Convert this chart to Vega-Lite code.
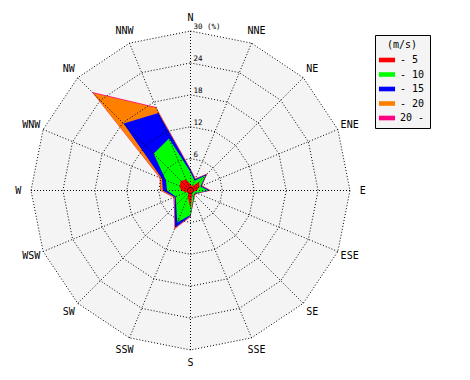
{
  "$schema": "https://vega.github.io/schema/vega-lite/v6.json",
  "width": 319,
  "height": 319,
  "autosize": {"type": "none"},
  "padding": {"left": 31, "top": 31, "right": 120, "bottom": 30},
  "background": "white",
  "config": {"view": {"stroke": null}, "font": "DejaVu Sans Mono"},
  "datasets": {
    "dirs": [
      {"i": 0, "d": "N", "rings": [6, 12, 18, 24, 30]},
      {"i": 1, "d": "NNE", "rings": [6, 12, 18, 24, 30]},
      {"i": 2, "d": "NE", "rings": [6, 12, 18, 24, 30]},
      {"i": 3, "d": "ENE", "rings": [6, 12, 18, 24, 30]},
      {"i": 4, "d": "E", "rings": [6, 12, 18, 24, 30]},
      {"i": 5, "d": "ESE", "rings": [6, 12, 18, 24, 30]},
      {"i": 6, "d": "SE", "rings": [6, 12, 18, 24, 30]},
      {"i": 7, "d": "SSE", "rings": [6, 12, 18, 24, 30]},
      {"i": 8, "d": "S", "rings": [6, 12, 18, 24, 30]},
      {"i": 9, "d": "SSW", "rings": [6, 12, 18, 24, 30]},
      {"i": 10, "d": "SW", "rings": [6, 12, 18, 24, 30]},
      {"i": 11, "d": "WSW", "rings": [6, 12, 18, 24, 30]},
      {"i": 12, "d": "W", "rings": [6, 12, 18, 24, 30]},
      {"i": 13, "d": "WNW", "rings": [6, 12, 18, 24, 30]},
      {"i": 14, "d": "NW", "rings": [6, 12, 18, 24, 30]},
      {"i": 15, "d": "NNW", "rings": [6, 12, 18, 24, 30]}
    ],
    "wind": [
      {"i": 0, "c": "20 -", "v": 4.1}, {"i": 1, "c": "20 -", "v": 2.5}, {"i": 2, "c": "20 -", "v": 4.5}, {"i": 3, "c": "20 -", "v": 2.4},
      {"i": 4, "c": "20 -", "v": 3.9}, {"i": 5, "c": "20 -", "v": 1.5}, {"i": 6, "c": "20 -", "v": 1.2}, {"i": 7, "c": "20 -", "v": 1.8},
      {"i": 8, "c": "20 -", "v": 5.0}, {"i": 9, "c": "20 -", "v": 7.9}, {"i": 10, "c": "20 -", "v": 4.4}, {"i": 11, "c": "20 -", "v": 3.5},
      {"i": 12, "c": "20 -", "v": 5.7}, {"i": 13, "c": "20 -", "v": 6.3}, {"i": 14, "c": "20 -", "v": 26.2}, {"i": 15, "c": "20 -", "v": 17.0},
      {"i": 0, "c": "- 20", "v": 4.0}, {"i": 1, "c": "- 20", "v": 2.4}, {"i": 2, "c": "- 20", "v": 4.4}, {"i": 3, "c": "- 20", "v": 2.3},
      {"i": 4, "c": "- 20", "v": 3.8}, {"i": 5, "c": "- 20", "v": 1.4}, {"i": 6, "c": "- 20", "v": 1.1}, {"i": 7, "c": "- 20", "v": 1.7},
      {"i": 8, "c": "- 20", "v": 4.9}, {"i": 9, "c": "- 20", "v": 7.8}, {"i": 10, "c": "- 20", "v": 4.3}, {"i": 11, "c": "- 20", "v": 3.4},
      {"i": 12, "c": "- 20", "v": 5.6}, {"i": 13, "c": "- 20", "v": 6.2}, {"i": 14, "c": "- 20", "v": 25.95}, {"i": 15, "c": "- 20", "v": 16.85},
      {"i": 0, "c": "- 15", "v": 3.9}, {"i": 1, "c": "- 15", "v": 2.3}, {"i": 2, "c": "- 15", "v": 4.3}, {"i": 3, "c": "- 15", "v": 2.2},
      {"i": 4, "c": "- 15", "v": 3.7}, {"i": 5, "c": "- 15", "v": 1.3}, {"i": 6, "c": "- 15", "v": 1.0}, {"i": 7, "c": "- 15", "v": 1.6},
      {"i": 8, "c": "- 15", "v": 4.8}, {"i": 9, "c": "- 15", "v": 7.6}, {"i": 10, "c": "- 15", "v": 4.2}, {"i": 11, "c": "- 15", "v": 3.2},
      {"i": 12, "c": "- 15", "v": 5.2}, {"i": 13, "c": "- 15", "v": 5.8}, {"i": 14, "c": "- 15", "v": 17.8}, {"i": 15, "c": "- 15", "v": 15.8},
      {"i": 0, "c": "- 10", "v": 3.5}, {"i": 1, "c": "- 10", "v": 2.0}, {"i": 2, "c": "- 10", "v": 4.0}, {"i": 3, "c": "- 10", "v": 2.0},
      {"i": 4, "c": "- 10", "v": 3.3}, {"i": 5, "c": "- 10", "v": 1.2}, {"i": 6, "c": "- 10", "v": 0.9}, {"i": 7, "c": "- 10", "v": 1.5},
      {"i": 8, "c": "- 10", "v": 4.6}, {"i": 9, "c": "- 10", "v": 6.5}, {"i": 10, "c": "- 10", "v": 3.8}, {"i": 11, "c": "- 10", "v": 3.0},
      {"i": 12, "c": "- 10", "v": 4.4}, {"i": 13, "c": "- 10", "v": 5.0}, {"i": 14, "c": "- 10", "v": 9.8}, {"i": 15, "c": "- 10", "v": 10.6},
      {"i": 0, "c": "- 5", "v": 1.2}, {"i": 1, "c": "- 5", "v": 0.8}, {"i": 2, "c": "- 5", "v": 2.3}, {"i": 3, "c": "- 5", "v": 1.8},
      {"i": 4, "c": "- 5", "v": 1.2}, {"i": 5, "c": "- 5", "v": 0.6}, {"i": 6, "c": "- 5", "v": 0.5}, {"i": 7, "c": "- 5", "v": 0.8},
      {"i": 8, "c": "- 5", "v": 3.5}, {"i": 9, "c": "- 5", "v": 1.3}, {"i": 10, "c": "- 5", "v": 0.6}, {"i": 11, "c": "- 5", "v": 0.9},
      {"i": 12, "c": "- 5", "v": 1.8}, {"i": 13, "c": "- 5", "v": 2.2}, {"i": 14, "c": "- 5", "v": 2.6}, {"i": 15, "c": "- 5", "v": 2.2}
    ],
    "ringlabels": [
      {"r": 6, "t": "6", "z": 0}, {"r": 12, "t": "12", "z": 0}, {"r": 18, "t": "18", "z": 0}, {"r": 24, "t": "24", "z": 0}, {"r": 30, "t": "30 (%)", "z": 0}
    ]
  },
  "layer": [
    {
      "data": {"name": "dirs"},
      "transform": [
        {"calculate": "30*sin(datum.i*PI/8)", "as": "x"},
        {"calculate": "30*cos(datum.i*PI/8)", "as": "y"}
      ],
      "mark": {"type": "line", "filled": true, "interpolate": "linear-closed", "color": "#f4f4f4", "strokeWidth": 0},
      "encoding": {
        "x": {"field": "x", "type": "quantitative", "scale": {"domain": [-30, 30], "nice": false, "zero": false}, "axis": null},
        "y": {"field": "y", "type": "quantitative", "scale": {"domain": [-30, 30], "nice": false, "zero": false}, "axis": null},
        "order": {"field": "i", "type": "quantitative"}
      }
    },
    {
      "data": {"name": "wind"},
      "transform": [
        {"calculate": "datum.v*sin(datum.i*PI/8)", "as": "x"},
        {"calculate": "datum.v*cos(datum.i*PI/8)", "as": "y"}
      ],
      "mark": {"type": "line", "filled": true, "interpolate": "linear-closed", "strokeWidth": 0},
      "encoding": {
        "x": {"field": "x", "type": "quantitative", "axis": null},
        "y": {"field": "y", "type": "quantitative", "axis": null},
        "order": {"field": "i", "type": "quantitative"},
        "color": {
          "field": "c", "type": "nominal",
          "scale": {"domain": ["- 5", "- 10", "- 15", "- 20", "20 -"], "range": ["#ff0000", "#00ff00", "#0000ff", "#ff8000", "#ff0080"]},
          "legend": {
            "title": "\u00a0\u00a0\u00a0(m/s)\u00a0\u00a0\u00a0",
            "orient": "none",
            "legendX": 344,
            "legendY": 4,
            "padding": 5,
            "fillColor": "#f4f4f4",
            "strokeColor": "black",
            "titleFont": "DejaVu Sans Mono",
            "titleFontSize": 10,
            "titleFontWeight": "normal",
            "titleColor": "black",
            "titleAnchor": "middle",
            "titlePadding": 3,
            "labelFont": "DejaVu Sans Mono",
            "labelFontSize": 10,
            "labelColor": "black",
            "labelOffset": 6,
            "symbolType": "M-1.15,-0.33H1.15V0.33H-1.15Z",
            "symbolSize": 196,
            "symbolStrokeWidth": 0,
            "rowPadding": 2.5
          }
        }
      }
    },
    {
      "data": {"name": "dirs"},
      "transform": [
        {"flatten": ["rings"]},
        {"calculate": "datum.rings*sin(datum.i*PI/8)", "as": "x"},
        {"calculate": "datum.rings*cos(datum.i*PI/8)", "as": "y"}
      ],
      "mark": {"type": "line", "interpolate": "linear-closed", "color": "black", "strokeWidth": 1, "strokeDash": [1, 2]},
      "encoding": {
        "x": {"field": "x", "type": "quantitative", "axis": null},
        "y": {"field": "y", "type": "quantitative", "axis": null},
        "detail": {"field": "rings", "type": "nominal"},
        "order": {"field": "i", "type": "quantitative"}
      }
    },
    {
      "data": {"name": "dirs"},
      "transform": [
        {"calculate": "30*sin(datum.i*PI/8)", "as": "x"},
        {"calculate": "30*cos(datum.i*PI/8)", "as": "y"}
      ],
      "mark": {"type": "rule", "color": "black", "strokeWidth": 1, "strokeDash": [1, 2]},
      "encoding": {
        "x": {"field": "x", "type": "quantitative", "axis": null},
        "y": {"field": "y", "type": "quantitative", "axis": null},
        "x2": {"datum": 0},
        "y2": {"datum": 0}
      }
    },
    {
      "data": {"name": "dirs"},
      "transform": [
        {"calculate": "32.4*sin(datum.i*PI/8)", "as": "x"},
        {"calculate": "32.4*cos(datum.i*PI/8)", "as": "y"}
      ],
      "mark": {"type": "text", "align": "center", "baseline": "middle", "fontSize": 10, "font": "DejaVu Sans Mono", "color": "black"},
      "encoding": {
        "x": {"field": "x", "type": "quantitative", "axis": null},
        "y": {"field": "y", "type": "quantitative", "axis": null},
        "text": {"field": "d"}
      }
    },
    {
      "data": {"name": "ringlabels"},
      "mark": {"type": "text", "align": "left", "baseline": "bottom", "dx": 3, "dy": 0, "fontSize": 7.5, "font": "DejaVu Sans Mono", "color": "black"},
      "encoding": {
        "x": {"field": "z", "type": "quantitative", "axis": null},
        "y": {"field": "r", "type": "quantitative", "axis": null},
        "text": {"field": "t"}
      }
    }
  ]
}
